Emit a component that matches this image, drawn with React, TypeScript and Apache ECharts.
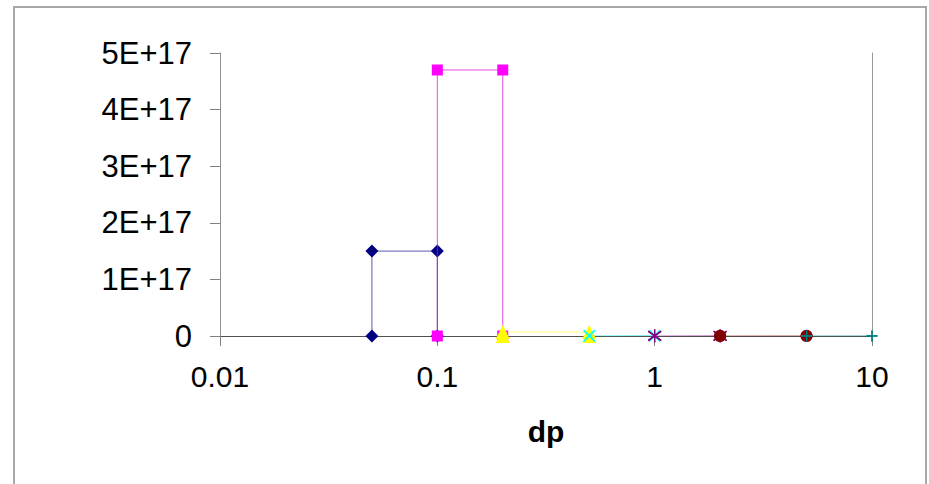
import React, { useEffect, useRef } from "react";
import * as echarts from "echarts";

// Bin edges (dp) and values for each step-series
const seriesNames = ["Series1", "Series2", "Series3", "Series4", "Series5", "Series6", "Series7"];
const binLow = [0.05, 0.1, 0.2, 0.5, 1, 2, 5];
const binHigh = [0.1, 0.2, 0.5, 1, 2, 5, 10];
const binValue = [1.5e17, 4.7e17, 7e15, 1e15, 5e14, 3e14, 1e14];

const xTickLabels = ["0.01", "0.1", "1", "10"];
const yTickLabels = ["0", "1E+17", "2E+17", "3E+17", "4E+17", "5E+17"];

const markerColors = ["#000080", "#FF00FF", "#FFFF00", "#00FFFF", "#800080", "#800000", "#008080"];
const lineColors = [
  "rgba(0,0,128,0.65)",
  "rgba(220,0,220,0.7)",
  "rgba(255,255,0,0.5)",
  "rgba(0,220,220,0.5)",
  "rgba(128,0,128,0.5)",
  "rgba(128,0,0,0.5)",
  "rgba(0,128,128,0.6)",
];
const symbols = [
  "diamond",
  "rect",
  "triangle",
  "path://M0,0L10,10M10,0L0,10",
  "path://M0,0L10,10M10,0L0,10M5,-2L5,12",
  "circle",
  "path://M5,0L5,10M0,5L10,5",
];
const symbolSizes = [13, 11, 14, 11, 13, 12, 11];
const strokeOnly = [false, false, false, true, true, false, true];

const FONT = "'Liberation Sans', Arial, sans-serif";

export default function App() {
  const ref = useRef<HTMLDivElement>(null);

  useEffect(() => {
    if (!ref.current) return;
    const chart = echarts.init(ref.current, null, { renderer: "svg" });

    const series = seriesNames.map((name, i) => ({
      name,
      type: "line",
      data: [
        [binLow[i], 0],
        [binLow[i], binValue[i]],
        [binHigh[i], binValue[i]],
        [binHigh[i], 0],
      ],
      symbol: symbols[i],
      symbolSize: symbolSizes[i],
      showSymbol: true,
      showAllSymbol: true,
      lineStyle: { color: lineColors[i], width: 1 },
      itemStyle: strokeOnly[i]
        ? { color: "transparent", borderColor: markerColors[i], borderWidth: 1.3 }
        : { color: markerColors[i], borderWidth: 0 },
      emphasis: { disabled: true },
      z: 2 + i,
    }));

    chart.setOption({
      animation: false,
      backgroundColor: "#ffffff",
      grid: { left: 220, right: 57, top: 53, bottom: 148, containLabel: false },
      xAxis: [
        {
          type: "log",
          logBase: 10,
          min: 0.01,
          max: 10,
          name: "dp",
          nameLocation: "middle",
          nameGap: 80,
          nameTextStyle: { fontFamily: FONT, fontSize: 30, fontWeight: "bold", color: "#000" },
          axisLine: { show: true, lineStyle: { color: "#909090", width: 1 } },
          axisTick: { show: true, inside: false, length: 10, lineStyle: { color: "#808080", width: 1 } },
          minorTick: { show: false },
          splitLine: { show: false },
          axisLabel: {
            margin: 25,
            fontFamily: FONT,
            fontSize: 30,
            color: "#000",
            formatter: (v: number) => xTickLabels[Math.round(Math.log10(v)) + 2] ?? "",
          },
        },
        {
          type: "value",
          position: "top",
          min: 0,
          max: 1,
          axisLine: { show: true, lineStyle: { color: "#505050", width: 1 } },
          axisTick: { show: false },
          axisLabel: { show: false },
          splitLine: { show: false },
        },
      ],
      yAxis: [
        {
          type: "value",
          min: 0,
          max: 5e17,
          interval: 1e17,
          axisLine: { show: true, lineStyle: { color: "#909090", width: 1 } },
          axisTick: { show: true, inside: false, length: 10, lineStyle: { color: "#808080", width: 1 } },
          splitLine: { show: false },
          axisLabel: {
            margin: 28,
            fontFamily: FONT,
            fontSize: 31,
            color: "#000",
            formatter: (_v: number, idx: number) => yTickLabels[idx] ?? "",
          },
        },
        {
          type: "value",
          position: "right",
          min: 0,
          max: 1,
          axisLine: { show: true, lineStyle: { color: "#999999", width: 1 } },
          axisTick: { show: false },
          axisLabel: { show: false },
          splitLine: { show: false },
        },
      ],
      graphic: [
        {
          type: "rect",
          shape: { x: 14, y: 7, width: 912, height: 500 },
          style: { fill: "none", stroke: "#a8a8a8", lineWidth: 2 },
          silent: true,
          z: -1,
        },
      ],
      series,
    });

    return () => chart.dispose();
  }, []);

  return (
    <div
      ref={ref}
      style={{ position: "fixed", left: 0, top: 0, width: 929, height: 484 }}
    />
  );
}
